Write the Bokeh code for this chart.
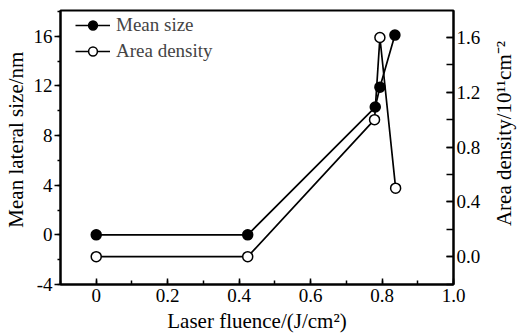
import math
from bokeh.plotting import figure
from bokeh.layouts import row
from bokeh.models import (Range1d, LinearAxis, SingleIntervalTicker, Label,
                          CustomJSTickFormatter, PrintfTickFormatter, Legend, LegendItem)
from bokeh.embed import file_html
from bokeh.resources import INLINE

# data
fluence_size = [0.0, 0.424, 0.781, 0.794, 0.836]
mean_size = [0.0, 0.0, 10.3, 11.9, 16.1]
fluence_density = [0.0, 0.424, 0.779, 0.794, 0.838]
area_density = [0.0, 0.0, 1.0, 1.6, 0.5]

x_title = "Laser fluence/(J/cm²)"
y_title = "Mean lateral size/nm"
y2_title = "Area density/10¹¹cm⁻²"

FONT = "Liberation Serif"
TICK_FS = "19px"
LABEL_FS = "21px"

p = figure(width=493, height=335, output_backend="svg", toolbar_location=None,
           x_range=Range1d(-0.1, 1.0), y_range=Range1d(-4, 18.08),
           min_border_left=59, min_border_right=40, min_border_top=10, min_border_bottom=49)
p.extra_y_ranges = {"dens": Range1d(-0.203, 1.797)}
p.xgrid.visible = False
p.ygrid.visible = False
p.outline_line_color = "black"
p.outline_line_width = 2
p.background_fill_color = "white"
p.border_fill_color = "white"

# bottom axis
xa = p.xaxis[0]
xa.ticker = SingleIntervalTicker(interval=0.2, num_minor_ticks=2)
xa.formatter = CustomJSTickFormatter(code="return Math.abs(tick) < 1e-9 ? '0' : tick.toFixed(1);")
xa.axis_label = x_title

# left axis
ya = p.yaxis[0]
ya.ticker = SingleIntervalTicker(interval=4, num_minor_ticks=2)
ya.formatter = CustomJSTickFormatter(code="return Math.round(tick).toString();")
ya.axis_label = "\u00a0" * 3 + y_title

# right axis (its title is drawn in the narrow strip at the right)
ra = LinearAxis(y_range_name="dens")
ra.ticker = SingleIntervalTicker(interval=0.4, num_minor_ticks=2)
ra.formatter = PrintfTickFormatter(format="%.1f")
p.add_layout(ra, "right")

for ax in (xa, ya, ra):
    ax.axis_line_width = 2
    ax.axis_line_color = "black"
    ax.major_tick_line_width = 1.5
    ax.minor_tick_line_width = 1.5
    ax.major_tick_line_color = "black"
    ax.minor_tick_line_color = "black"
    ax.major_label_text_font = FONT
    ax.major_label_text_font_size = TICK_FS
    ax.major_label_text_color = "black"
    ax.axis_label_text_font = FONT
    ax.axis_label_text_font_size = LABEL_FS
    ax.axis_label_text_font_style = "normal"
    ax.axis_label_text_color = "black"

ya.major_tick_out = 6
ya.major_tick_in = 0
ya.minor_tick_out = 3
ya.minor_tick_in = 0
ya.major_label_standoff = 2
ya.axis_label_standoff = 3

xa.major_tick_in = 6
xa.major_tick_out = 0
xa.minor_tick_in = 4
xa.minor_tick_out = 0
xa.major_label_standoff = 4
xa.axis_label_standoff = 4

ra.major_tick_in = 7
ra.major_tick_out = 0
ra.minor_tick_in = 7
ra.minor_tick_out = 0
ra.major_label_standoff = 3

# series
l1 = p.line(fluence_size, mean_size, line_color="black", line_width=1.7)
l2 = p.line(fluence_density, area_density, line_color="black", line_width=1.7, y_range_name="dens")
s1 = p.scatter(fluence_size, mean_size, size=10, fill_color="black", line_color="black", line_width=1.5)
s2 = p.scatter(fluence_density, area_density, size=10, fill_color="white", line_color="black",
               line_width=1.5, y_range_name="dens")

legend = Legend(items=[LegendItem(label="Mean size", renderers=[l1, s1]),
                       LegendItem(label="Area density", renderers=[l2, s2])],
                location=(15, 222), padding=0, margin=0, spacing=4,
                glyph_width=35, glyph_height=22, label_height=22, label_standoff=6,
                label_text_font=FONT, label_text_font_size=TICK_FS,
                border_line_alpha=0, background_fill_alpha=0)
p.add_layout(legend, "center")

# narrow strip holding the right-hand axis title, reading bottom to top
p2 = figure(width=28, height=335, output_backend="svg", toolbar_location=None,
            x_range=Range1d(0, 1), y_range=Range1d(0, 1),
            x_axis_location=None, y_axis_location=None,
            min_border_left=0, min_border_right=0, min_border_top=0, min_border_bottom=0)
p2.xgrid.visible = False
p2.ygrid.visible = False
p2.outline_line_color = None
p2.background_fill_color = "white"
p2.border_fill_color = "white"
p2.add_layout(Label(x=10, y=151, x_units="screen", y_units="screen", text=y2_title,
                    angle=math.pi / 2, text_font=FONT, text_font_size=LABEL_FS,
                    text_color="black", text_align="center", text_baseline="middle"))

layout = row(p, p2, spacing=0)
open("out.html", "w").write(file_html(layout, INLINE))
